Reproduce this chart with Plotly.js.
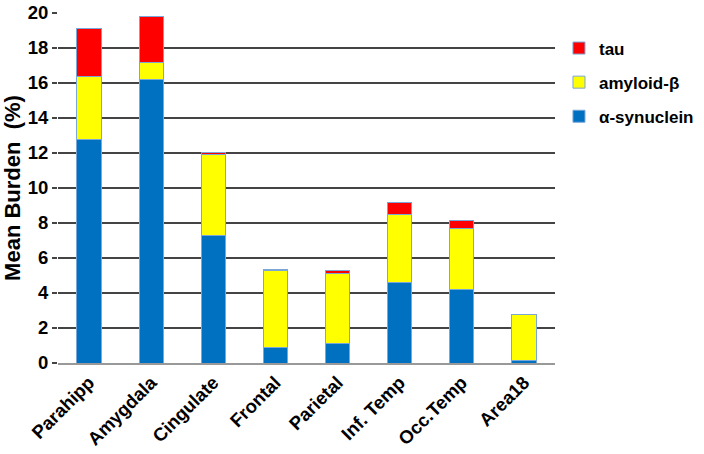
<!DOCTYPE html>
<html>
<head>
<meta charset="utf-8">
<script src="https://cdn.plot.ly/plotly-3.0.1.min.js"></script>
<style>html,body{margin:0;padding:0;background:#fff;}#chart{width:704px;height:454px;}</style>
</head>
<body>
<div id="chart"></div>
<script>
const regions = ["Parahipp", "Amygdala", "Cingulate", "Frontal", "Parietal", "Inf. Temp", "Occ.Temp", "Area18"];
const synuclein = [12.8, 16.2, 7.3, 0.9, 1.1, 4.6, 4.2, 0.15];
const amyloid = [3.6, 1.0, 4.6, 4.4, 4.0, 3.9, 3.5, 2.6];
const tau = [2.7, 2.6, 0.12, 0.05, 0.2, 0.68, 0.45, 0.03];
const seriesNames = ["α-synuclein", "amyloid-β", "tau"];
const yTicks = [0, 2, 4, 6, 8, 10, 12, 14, 16, 18, 20];

const FONT = "Liberation Sans, Arial, sans-serif";
const outline = {color: "#7aa6d8", width: 1};
const traces = [
  {type: "bar", name: seriesNames[0], x: regions, y: synuclein, legendgroup: "a", legendrank: 3,
   marker: {color: "#0070c0", line: outline}, width: 0.39},
  {type: "bar", name: seriesNames[1], x: regions, y: amyloid, legendgroup: "b", legendrank: 2,
   marker: {color: "#ffff00", line: outline}, width: 0.39},
  {type: "bar", name: seriesNames[2], x: regions, y: tau, legendgroup: "c", legendrank: 1,
   marker: {color: "#ff0000", line: outline}, width: 0.39}
];

const layout = {
  width: 704, height: 454,
  margin: {l: 58, r: 149, t: 13, b: 91, autoexpand: false},
  barmode: "stack",
  paper_bgcolor: "#fff", plot_bgcolor: "#fff",
  font: {family: FONT, color: "#000"},
  showlegend: true,
  legend: {
    x: 1.008, y: 0.95, xanchor: "left", yanchor: "top",
    traceorder: "grouped", tracegroupgap: 9,
    font: {size: 17, family: FONT, weight: "bold"},
    itemwidth: 30
  },
  xaxis: {
    tickangle: -45,
    tickfont: {size: 18.5, family: FONT, weight: "bold"},
    showline: true, linecolor: "#999", linewidth: 1.5,
    ticks: "", showgrid: false
  },
  yaxis: {
    range: [0, 20], tickvals: yTicks, ticktext: yTicks.map(String),
    tickfont: {size: 18.5, family: FONT, weight: "bold"},
    showgrid: true, gridcolor: "#444", gridwidth: 1.5,
    zeroline: false, showline: false,
    ticks: "outside", ticklen: 5, tickcolor: "#444", tickwidth: 1.5,
    title: {text: "Mean Burden  (%)", font: {size: 22, family: FONT, weight: "bold"}, standoff: 8}
  }
};

Plotly.newPlot("chart", traces, layout, {displayModeBar: false, staticPlot: true});
</script>
</body>
</html>
